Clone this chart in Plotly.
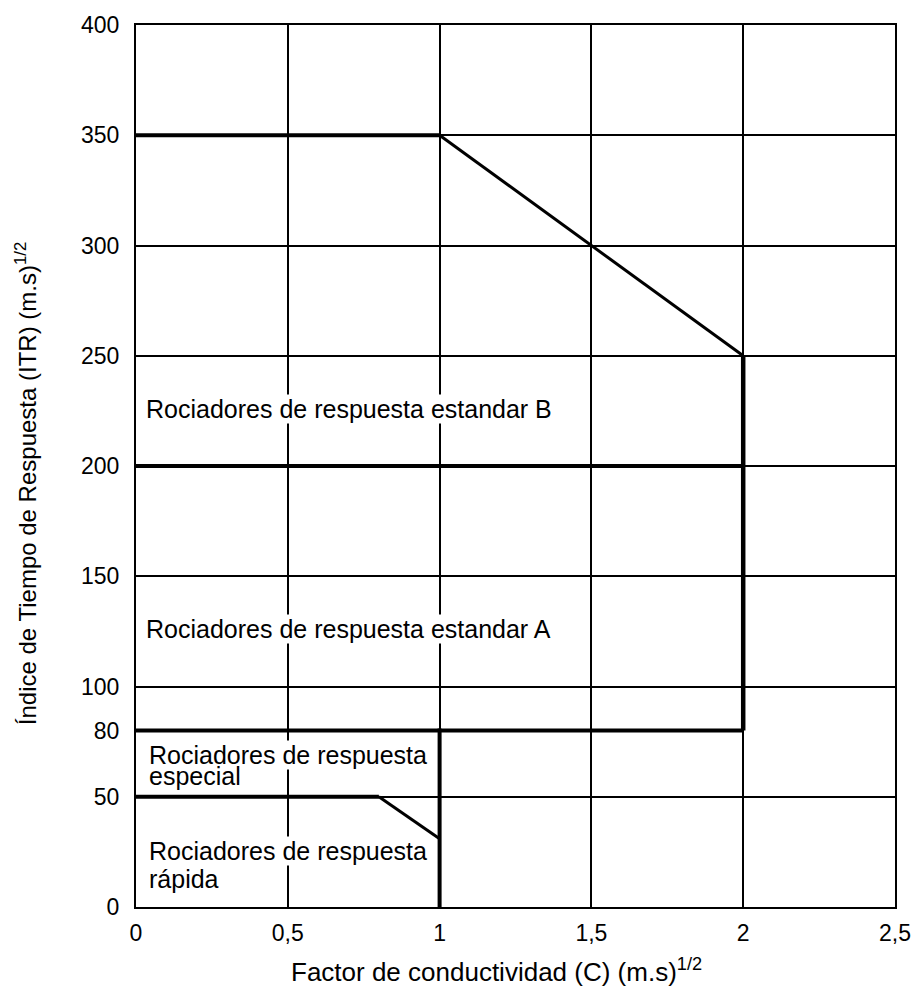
import plotly.graph_objects as go

# ---- data ----
x_tickvals = [0, 0.5, 1, 1.5, 2, 2.5]
x_ticktext = ["0", "0,5", "1", "1,5", "2", "2,5"]
y_tickvals = [0, 50, 80, 100, 150, 200, 250, 300, 350, 400]
y_ticktext = ["0", "50", "80", "100", "150", "200", "250", "300", "350", "400"]
y_gridvals = [0, 50, 100, 150, 200, 250, 300, 350, 400]

# boundary lines between response classes
bound_B_x = [0, 1]
bound_B_y = [350, 350]
diag_B_x = [1, 2]
diag_B_y = [350, 250]
vert_2_x = [2, 2]
vert_2_y = [250, 80]
line_200_x = [0, 2]
line_200_y = [200, 200]
line_80_x = [0, 2]
line_80_y = [80, 80]
line_50_x = [0, 0.8]
line_50_y = [50, 50]
diag_50_x = [0.8, 1]
diag_50_y = [50, 31]
vert_1_x = [1, 1]
vert_1_y = [81, 0]

# (text, x, y, white background)
labels = [
    ("Rociadores de respuesta estandar B", 0.03, 226, True),
    ("Rociadores de respuesta estandar A", 0.03, 126, True),
    ("Rociadores de respuesta", 0.04, 69, True),
    ("especial", 0.04, 59.5, False),
    ("Rociadores de respuesta", 0.04, 25.5, True),
    ("rápida", 0.04, 12.5, False),
]

FONT = "Liberation Sans, Arial, sans-serif"

fig = go.Figure()

def seg(x, y, w):
    fig.add_trace(go.Scatter(x=x, y=y, mode="lines",
                             line=dict(color="black", width=w),
                             showlegend=False, hoverinfo="skip"))

seg(diag_50_x, diag_50_y, 3)
seg(diag_B_x, diag_B_y, 3)
seg(bound_B_x, bound_B_y, 4)
seg(vert_2_x, vert_2_y, 4.5)
seg(line_200_x, line_200_y, 4)
seg(line_80_x, line_80_y, 4)
seg(line_50_x, line_50_y, 4)
seg(vert_1_x, vert_1_y, 4)

# invisible trace for the grid axis
fig.add_trace(go.Scatter(x=[0], y=[0], yaxis="y2", mode="markers",
                         marker=dict(opacity=0), showlegend=False, hoverinfo="skip"))

for text, lx, ly, bg in labels:
    fig.add_annotation(x=lx, y=ly, xref="x", yref="y", text=text,
                       showarrow=False, xanchor="left", yanchor="middle",
                       bgcolor="white" if bg else "rgba(0,0,0,0)", borderpad=0,
                       font=dict(family=FONT, size=25, color="black"))

fig.add_annotation(x=(501 - 136) / 768, y=(907 - 971) / 888, xref="paper", yref="paper",
                   text="Factor de conductividad (C) (m.s)<sup>1/2</sup>",
                   showarrow=False, xanchor="center", yanchor="middle",
                   font=dict(family=FONT, size=26, color="black"))
fig.add_annotation(x=(25 - 136) / 768, y=(907 - 480) / 888, xref="paper", yref="paper",
                   text="Índice de Tiempo de Respuesta (ITR) (m.s)<sup>1/2</sup>",
                   textangle=-90, showarrow=False, xanchor="center", yanchor="middle",
                   font=dict(family=FONT, size=24, color="black"))

fig.update_layout(
    width=923, height=995,
    margin=dict(l=136, r=19, t=19, b=88),
    paper_bgcolor="white", plot_bgcolor="white",
    font=dict(family=FONT, size=23, color="black"),
    xaxis=dict(range=[0, 2.5], tickvals=x_tickvals, ticktext=x_ticktext,
               showgrid=True, gridcolor="black", gridwidth=2,
               showline=True, linecolor="black", linewidth=2, mirror=True,
               zeroline=False, ticks="", ticklabelstandoff=4,
               tickfont=dict(family=FONT, size=23)),
    yaxis=dict(range=[0, 400], tickvals=y_tickvals, ticktext=y_ticktext,
               showgrid=False,
               showline=True, linecolor="black", linewidth=2, mirror=True,
               zeroline=False, ticks="", ticklabelstandoff=10,
               tickfont=dict(family=FONT, size=23)),
    yaxis2=dict(range=[0, 400], overlaying="y", side="left",
                tickvals=y_gridvals, showticklabels=False,
                showgrid=True, gridcolor="black", gridwidth=2,
                zeroline=False, showline=False, ticks=""),
)

fig.write_html("out.html")
